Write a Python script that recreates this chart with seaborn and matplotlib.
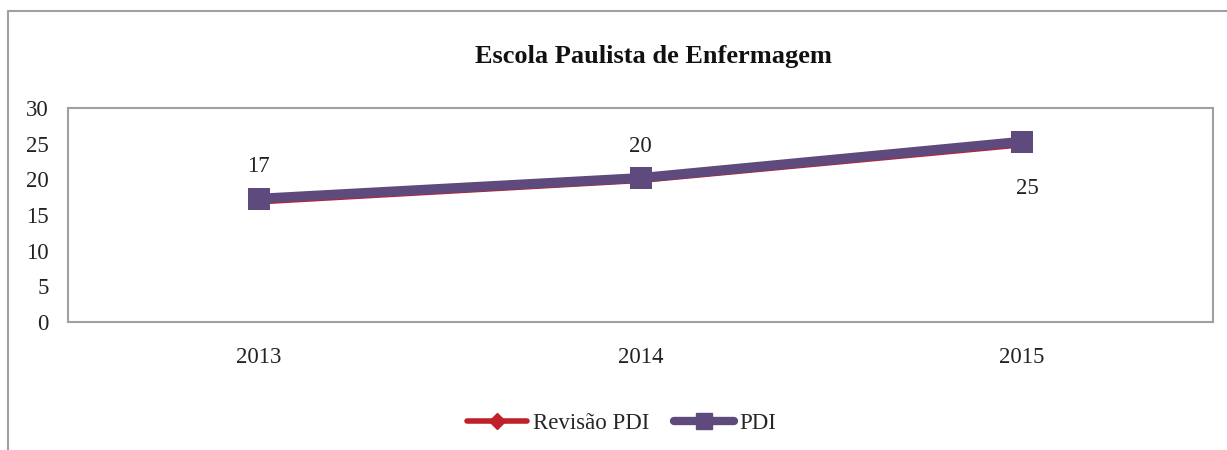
import matplotlib
matplotlib.use("Agg")
import matplotlib.pyplot as plt
import seaborn as sns
import pandas as pd
from matplotlib.lines import Line2D

years = ["2013", "2014", "2015"]
revisao_pdi = [16.8, 19.8, 24.8]
pdi = [17.3, 20.2, 25.3]
labels = ["17", "20", "25"]

RED = "#C0202A"
PURPLE = "#5E4A7D"

sns.set_theme(style="white")
plt.rcParams['font.family'] = ['Liberation Serif', 'DejaVu Serif']

df_rev = pd.DataFrame({"ano": years, "valor": revisao_pdi})
df_pdi = pd.DataFrame({"ano": years, "valor": pdi})

fig = plt.figure(figsize=(12.27, 4.5), dpi=100)
ax = fig.add_axes([68 / 1227, 1 - 322 / 450, (1213 - 68) / 1227, (322 - 108) / 450])

sns.lineplot(data=df_rev, x="ano", y="valor", ax=ax, color=RED,
             linewidth=3.5, marker="D", markersize=6, markeredgewidth=0,
             sort=False)
sns.lineplot(data=df_pdi, x="ano", y="valor", ax=ax, color=PURPLE,
             linewidth=7, marker="s", markersize=16, markeredgewidth=0,
             sort=False)

# rótulos de dados
offsets = [(0, 26), (0, 25), (4, -31)]
for i, (lab, off) in enumerate(zip(labels, offsets)):
    ax.annotate(lab, (i, revisao_pdi[i]), xytext=off, textcoords="offset points",
                ha="center", va="center", fontsize=16.5, color="#222222")

ax.set_xlim(-0.5, 2.5)
ax.set_ylim(0, 30)
ax.set_yticks(range(0, 31, 5))
ax.set_xlabel("")
ax.set_ylabel("")
ax.tick_params(axis="both", length=0, labelsize=16.5, colors="#222222", pad=18)
ax.tick_params(axis="y", pad=14)
for s in ax.spines.values():
    s.set_color("#A0A0A4")
    s.set_linewidth(1.5)

fig.text(653 / 1227, 1 - 57 / 450, "Escola Paulista de Enfermagem", ha="center",
         va="center", fontsize=19, fontweight="bold", color="#111111")

handles = [
    Line2D([], [], color=RED, lw=4, marker="D", markersize=8, solid_capstyle="round"),
    Line2D([], [], color=PURPLE, lw=6, marker="s", markersize=11, solid_capstyle="round"),
]
fig.legend(handles, ["Revisão PDI", "PDI"], loc="center",
           bbox_to_anchor=(622 / 1227, 1 - 423 / 450), ncol=2, frameon=False,
           fontsize=16.5, handlelength=2.6, handletextpad=0.25, columnspacing=1.1)

# moldura externa do gráfico
fig.add_artist(Line2D([8 / 1227, 8 / 1227], [0, 1 - 11 / 450], color="#A0A0A4", lw=1.5))
fig.add_artist(Line2D([8 / 1227, 1], [1 - 11 / 450, 1 - 11 / 450], color="#A0A0A4", lw=1.5))

fig.savefig("out.png", dpi=100)
